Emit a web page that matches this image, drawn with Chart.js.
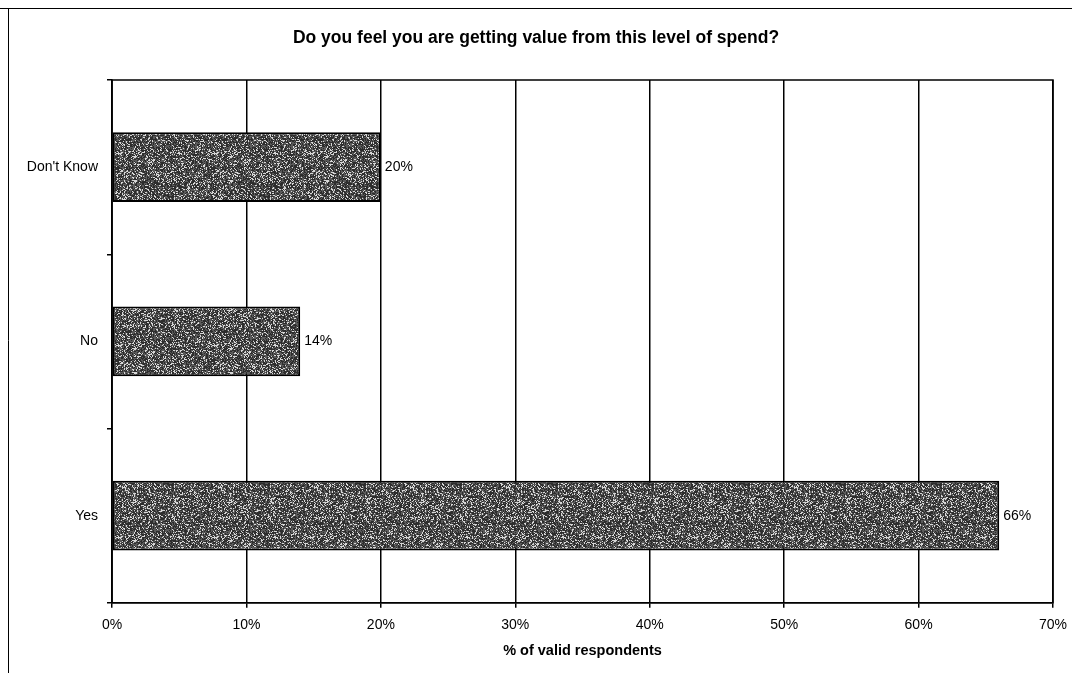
<!DOCTYPE html>
<html>
<head>
<meta charset="utf-8">
<script src="https://cdn.jsdelivr.net/npm/chart.js@4"></script>
<style>
  html, body { margin: 0; padding: 0; background: #fff; }
  #box { position: relative; width: 1072px; height: 673px; }
</style>
</head>
<body>
<div id="box"><canvas id="grafico" width="1072" height="673"></canvas></div>
<script>
// dados do grafico
var categorias = ["Don't Know", 'No', 'Yes'];
var valores = [20, 14, 66];
var ticksX = [0, 10, 20, 30, 40, 50, 60, 70];

var fonte = '"Liberation Sans", Arial, sans-serif';

// textura granulada das barras (ruido fixo, sem aleatorio)
function criarTextura(ctx) {
    var c = document.createElement('canvas');
    c.width = 96; c.height = 96;
    var g = c.getContext('2d');
    var img = g.createImageData(96, 96);
    for (var i = 0; i < 96 * 96; i++) {
        var h = Math.sin(i * 12.9898 + 78.233) * 43758.5453;
        h = h - Math.floor(h);
        var v = h > 0.8 ? 215 : (h > 0.45 ? 90 : 45);
        img.data[i * 4] = v;
        img.data[i * 4 + 1] = v;
        img.data[i * 4 + 2] = v;
        img.data[i * 4 + 3] = 255;
    }
    g.putImageData(img, 0, 0);
    return ctx.createPattern(c, 'repeat');
}

// moldura externa + borda da area do grafico
var moldura = {
    id: 'moldura',
    beforeDraw: function (chart) {
        var ctx = chart.ctx;
        ctx.save();
        ctx.strokeStyle = '#000';
        ctx.lineWidth = 1;
        ctx.beginPath();
        ctx.moveTo(0, 8.5); ctx.lineTo(1072, 8.5);
        ctx.moveTo(8.5, 8); ctx.lineTo(8.5, 673);
        ctx.stroke();
        ctx.restore();
    },
    afterDraw: function (chart) {
        var a = chart.chartArea;
        var ctx = chart.ctx;
        ctx.save();
        ctx.strokeStyle = '#000';
        ctx.lineWidth = 1.5;
        ctx.strokeRect(a.left, a.top, a.right - a.left, a.bottom - a.top);
        ctx.restore();
    }
};

// rotulos de porcentagem na ponta de cada barra
var rotulos = {
    id: 'rotulos',
    afterDatasetsDraw: function (chart) {
        var ctx = chart.ctx;
        var meta = chart.getDatasetMeta(0);
        ctx.save();
        ctx.font = '14px ' + fonte;
        ctx.fillStyle = '#000';
        ctx.textAlign = 'left';
        ctx.textBaseline = 'middle';
        meta.data.forEach(function (bar, i) {
            ctx.fillText(valores[i] + '%', bar.x + 4, bar.y);
        });
        ctx.restore();
    }
};

var ctx = document.getElementById('grafico').getContext('2d');

var grafico = new Chart(ctx, {
    type: 'bar',
    data: {
        labels: categorias,
        datasets: [{
            data: valores,
            backgroundColor: criarTextura(ctx),
            borderColor: '#000',
            borderWidth: 2,
            borderSkipped: false,
            barPercentage: 0.4,
            categoryPercentage: 1
        }]
    },
    options: {
        indexAxis: 'y',
        responsive: false,
        animation: false,
        devicePixelRatio: 1,
        layout: { padding: { left: 0, right: 0, top: 20, bottom: 13 } },
        plugins: {
            legend: { display: false },
            tooltip: { enabled: false },
            title: {
                display: true,
                text: 'Do you feel you are getting value from this level of spend?',
                color: '#000',
                font: { family: fonte, size: 17.5, weight: 'bold' },
                padding: { top: 8, bottom: 31 }
            }
        },
        scales: {
            x: {
                min: 0,
                max: 70,
                afterBuildTicks: function (s) {
                    s.ticks = ticksX.map(function (v) { return { value: v }; });
                },
                afterFit: function (s) { s.paddingRight = 19; },
                ticks: {
                    color: '#000',
                    font: { family: fonte, size: 14 },
                    padding: 9,
                    autoSkip: false,
                    maxRotation: 0,
                    callback: function (v) { return v + '%'; }
                },
                grid: { color: '#000', lineWidth: 1.5, tickLength: 5 },
                border: { color: '#000', width: 1.5 },
                title: {
                    display: true,
                    text: '% of valid respondents',
                    color: '#000',
                    font: { family: fonte, size: 14.5, weight: 'bold' },
                    padding: { top: 0, bottom: 0 }
                }
            },
            y: {
                afterFit: function (s) { s.width = 112; },
                ticks: {
                    color: '#000',
                    font: { family: fonte, size: 14 },
                    padding: 9
                },
                grid: { display: true, drawOnChartArea: false, offset: true, color: '#000', lineWidth: 1.5, tickLength: 5 },
                border: { color: '#000', width: 1.5 }
            }
        }
    },
    plugins: [moldura, rotulos]
});
</script>
</body>
</html>
